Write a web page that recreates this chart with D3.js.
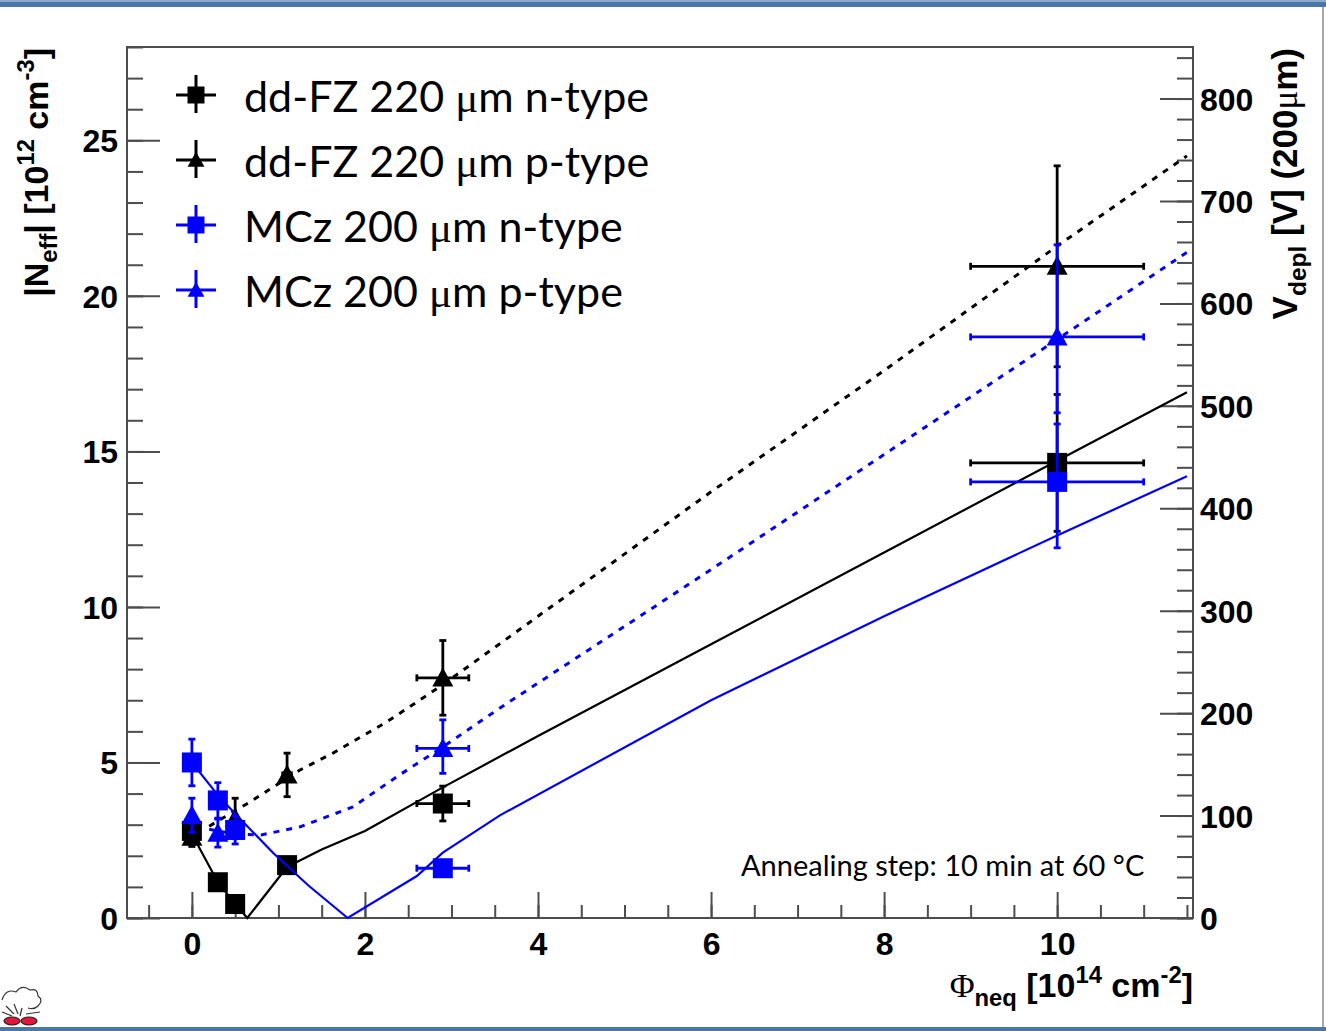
<!DOCTYPE html>
<html><head><meta charset="utf-8">
<script src="https://cdn.jsdelivr.net/npm/d3@7"></script>
<style>body{margin:0;background:#fff}svg{display:block}</style>
</head><body><svg id="c" width="1326" height="1031"></svg>
<script>
// ---------- data ----------
// dd-FZ 220 um n-type
const fzN_x    = [0, 0.3, 0.5, 1.1, 2.9, 10];
const fzN_y    = [2.8, 1.15, 0.45, 1.7, 3.68, 14.63];
const fzN_xerr = [0, 0, 0, 0, 0.3, 1.0];
const fzN_elo  = [0.3, 0.2, 0.2, 0.2, 0.56, 2.2];
const fzN_ehi  = [0.3, 0.2, 0.2, 0.2, 0.56, 2.2];
// dd-FZ 220 um p-type
const fzP_x    = [0, 0.5, 1.1, 2.9, 10];
const fzP_y    = [2.6, 3.2, 4.6, 7.72, 20.95];
const fzP_xerr = [0, 0, 0.05, 0.3, 1.0];
const fzP_elo  = [0.3, 0.65, 0.7, 1.2, 3.23];
const fzP_ehi  = [0.3, 0.65, 0.7, 1.2, 3.23];
// MCz 200 um n-type
const mczN_x    = [0, 0.3, 0.5, 2.9, 10];
const mczN_y    = [5.0, 3.78, 2.83, 1.6, 14.02];
const mczN_xerr = [0, 0, 0, 0.3, 1.0];
const mczN_elo  = [0.75, 0.57, 0.45, 0.2, 2.12];
const mczN_ehi  = [0.75, 0.57, 0.45, 0.2, 1.86];
// MCz 200 um p-type
const mczP_x    = [0, 0.3, 2.9, 10];
const mczP_y    = [3.3, 2.73, 5.45, 18.68];
const mczP_xerr = [0, 0, 0.3, 1.0];
const mczP_elo  = [0.55, 0.45, 0.8, 2.44];
const mczP_ehi  = [0.55, 0.45, 0.92, 2.96];

// model curves
const fitFzN_x  = [0, 0.3, 0.5, 0.64, 1.1, 1.5, 2, 2.9, 4, 6, 8, 10, 11.5];
const fitFzN_y  = [2.7, 1.15, 0.45, 0, 1.64, 2.2, 2.8, 4.2, 5.85, 8.8, 11.75, 14.7, 16.9];
const fitFzP_x  = [0.2, 0.32, 0.67, 1.25, 1.63, 2.25, 2.9, 4, 6, 8, 10, 11.5];
const fitFzP_y  = [2.95, 3.15, 3.73, 4.76, 5.3, 6.3, 7.5, 9.7, 13.7, 17.6, 21.6, 24.5];
const fitMczN_x = [0, 0.3, 0.5, 0.94, 1.34, 1.8, 2.6, 2.9, 3.56, 6, 8, 10, 11.5];
const fitMczN_y = [5.0, 3.95, 3.35, 2.09, 1.06, 0, 1.35, 2.1, 3.3, 7.0, 9.7, 12.3, 14.2];
const fitMczP_x = [0.2, 0.5, 0.8, 1.25, 1.86, 2.4, 2.9, 3.56, 6, 8, 10, 11.5];
const fitMczP_y = [2.85, 2.7, 2.67, 2.93, 3.57, 4.6, 5.5, 6.75, 11.2, 14.9, 18.6, 21.4];

const seriesNames = ["dd-FZ 220 \u03bcm n-type", "dd-FZ 220 \u03bcm p-type", "MCz 200 \u03bcm n-type", "MCz 200 \u03bcm p-type"];
const xTicks = [0, 2, 4, 6, 8, 10];
const yTicks = [0, 5, 10, 15, 20, 25];
const vTicks = [0, 100, 200, 300, 400, 500, 600, 700, 800];
const annotation = "Annealing step: 10 min at 60 \u00b0C";

// ---------- layout ----------
const L = 127, R = 1193, T = 47, B = 918;
const svg = d3.select("#c");
const x = d3.scaleLinear().domain([-0.75, 11.57]).range([L, R]);
const y = d3.scaleLinear().domain([0, 28]).range([B, T]);
const vPerUnit = 30.37;
const yv = d3.scaleLinear().domain([0, 28 * vPerUnit]).range([B, T]);

const BLUE = "#0000ff", BLACK = "#000000", FRAME = "#4d4d4d";
const tickFont = "'Liberation Sans', Arial, sans-serif";

// page decorations
svg.append("rect").attr("x", 0).attr("y", 0).attr("width", 1326).attr("height", 7).attr("fill", "#4a76a8");
svg.append("rect").attr("x", 0).attr("y", 0).attr("width", 1326).attr("height", 2).attr("fill", "#8cabd0");
svg.append("rect").attr("x", 0).attr("y", 1027).attr("width", 1326).attr("height", 4).attr("fill", "#4a76a8");
svg.append("line").attr("x1", 1323).attr("x2", 1323).attr("y1", 7).attr("y2", 1027).attr("stroke", "#8a8a8a").attr("stroke-width", 1.5);
// small logo sketch (bottom-left)
const logo = svg.append("g").attr("fill", "none").attr("stroke", "#333").attr("stroke-width", 1.2);
logo.append("path").attr("d", "M2,1000 q4,-12 14,-8 q6,-8 14,-2 q8,-2 8,6 q6,4 0,10 q-4,4 -10,2");
logo.append("path").attr("d", "M2,1012 l10,4 M6,1006 l8,8 M14,1004 l4,10 M22,1008 l-2,8 M26,1014 l14,-2");
logo.append("ellipse").attr("cx", 12).attr("cy", 1021).attr("rx", 8).attr("ry", 4).attr("fill", "#e2173a").attr("stroke", "#222");
logo.append("ellipse").attr("cx", 29).attr("cy", 1021).attr("rx", 8).attr("ry", 4).attr("fill", "#e2173a").attr("stroke", "#222");

// ---------- axes (ticks inward) ----------
function styleAxis(g) {
  g.select(".domain").remove();
  g.selectAll(".tick line").attr("stroke", FRAME).attr("stroke-width", 2);
  g.selectAll(".tick text").attr("font-family", tickFont).attr("font-weight", "bold")
    .attr("font-size", 32).attr("fill", "#000");
}
svg.append("g").attr("transform", `translate(0,${B})`)
  .call(d3.axisBottom(x).tickValues(d3.range(-0.5, 11.51, 0.5)).tickSize(-13).tickFormat(""))
  .call(styleAxis);
svg.append("g").attr("transform", `translate(0,${B})`)
  .call(d3.axisBottom(x).tickValues(xTicks).tickSize(-26).tickPadding(0).tickFormat(d3.format("d")))
  .call(styleAxis)
  .call(g => g.selectAll(".tick text").attr("y", 37).attr("dy", 0));
svg.append("g").attr("transform", `translate(${L},0)`)
  .call(d3.axisLeft(y).tickValues(d3.range(0, 28.1, 1)).tickSize(-16).tickFormat(""))
  .call(styleAxis);
svg.append("g").attr("transform", `translate(${L},0)`)
  .call(d3.axisLeft(y).tickValues(yTicks).tickSize(-33).tickFormat(d3.format("d")))
  .call(styleAxis)
  .call(g => g.selectAll(".tick text").attr("x", -9).attr("dy", "0.36em"));
svg.append("g").attr("transform", `translate(${R},0)`)
  .call(d3.axisRight(yv).tickValues(d3.range(0, 841, 20)).tickSize(-16).tickFormat(""))
  .call(styleAxis);
svg.append("g").attr("transform", `translate(${R},0)`)
  .call(d3.axisRight(yv).tickValues(vTicks).tickSize(-33).tickFormat(d3.format("d")))
  .call(styleAxis)
  .call(g => g.selectAll(".tick text").attr("x", 7).attr("dy", "0.36em"));

svg.append("rect").attr("x", L).attr("y", T).attr("width", R - L).attr("height", B - T)
  .attr("fill", "none").attr("stroke", FRAME).attr("stroke-width", 2);

// ---------- axis titles ----------
const titleSize = 34;
const lt = svg.append("text").attr("transform", `translate(48,${T + 1}) rotate(-90)`)
  .attr("text-anchor", "end").attr("font-family", tickFont).attr("font-weight", "bold")
  .attr("font-size", titleSize).attr("fill", "#000");
lt.append("tspan").text("|N");
lt.append("tspan").attr("font-size", titleSize * 0.7).attr("dy", 9).text("eff");
lt.append("tspan").attr("dy", -9).text("| [10");
lt.append("tspan").attr("font-size", titleSize * 0.7).attr("dy", -14).text("12");
lt.append("tspan").attr("dy", 14).text(" cm");
lt.append("tspan").attr("font-size", titleSize * 0.7).attr("dy", -14).text("-3");
lt.append("tspan").attr("dy", 14).text("]");
const rtSize = 35;
const rt = svg.append("text").attr("transform", `translate(1297,${T + 1}) rotate(-90)`)
  .attr("text-anchor", "end").attr("font-family", tickFont).attr("font-weight", "bold")
  .attr("font-size", rtSize).attr("fill", "#000");
rt.append("tspan").text("V");
rt.append("tspan").attr("font-size", rtSize * 0.7).attr("dy", 9).text("depl");
rt.append("tspan").attr("dy", -9).text(" [V] (200");
rt.append("tspan").attr("font-family", "'Liberation Serif', serif").attr("font-weight", "normal").text("\u03bc");
rt.append("tspan").text("m)");
const bt = svg.append("text").attr("x", R).attr("y", 997)
  .attr("text-anchor", "end").attr("font-family", tickFont).attr("font-weight", "bold")
  .attr("font-size", titleSize).attr("fill", "#000");
bt.append("tspan").attr("font-family", "'Liberation Serif', serif").attr("font-weight", "normal").text("\u03a6");
bt.append("tspan").attr("font-size", titleSize * 0.7).attr("dy", 9).text("neq");
bt.append("tspan").attr("dy", -9).text(" [10");
bt.append("tspan").attr("font-size", titleSize * 0.7).attr("dy", -14).text("14");
bt.append("tspan").attr("dy", 14).text(" cm");
bt.append("tspan").attr("font-size", titleSize * 0.7).attr("dy", -14).text("-2");
bt.append("tspan").attr("dy", 14).text("]");

// ---------- plotting ----------
const plot = svg.append("g");
const line = d3.line().x(d => x(d[0])).y(d => y(d[1]));

function markerPath(type, cx, cy, s) {
  if (type === "square") {
    return `M${cx - s / 2},${cy - s / 2}h${s}v${s}h${-s}Z`;
  }
  const w = s * 1.05, h = s * 0.95;
  return `M${cx},${cy - h * 0.55}L${cx + w / 2},${cy + h * 0.45}L${cx - w / 2},${cy + h * 0.45}Z`;
}

function drawSeries(xs, ys, xerr, elo, ehi, color, type) {
  const g = plot.append("g");
  const cap = 3.5, sw = 2.8;
  xs.forEach((xv, i) => {
    const cx = x(xv), cy = y(ys[i]);
    const yTop = y(ys[i] + ehi[i]), yBot = y(ys[i] - elo[i]);
    g.append("line").attr("x1", cx).attr("x2", cx).attr("y1", yTop).attr("y2", yBot)
      .attr("stroke", color).attr("stroke-width", sw);
    g.append("line").attr("x1", cx - cap).attr("x2", cx + cap).attr("y1", yTop).attr("y2", yTop)
      .attr("stroke", color).attr("stroke-width", sw);
    g.append("line").attr("x1", cx - cap).attr("x2", cx + cap).attr("y1", yBot).attr("y2", yBot)
      .attr("stroke", color).attr("stroke-width", sw);
    if (xerr[i] > 0) {
      const xl = x(xv - xerr[i]), xr = x(xv + xerr[i]);
      g.append("line").attr("x1", xl).attr("x2", xr).attr("y1", cy).attr("y2", cy)
        .attr("stroke", color).attr("stroke-width", sw);
      g.append("line").attr("x1", xl).attr("x2", xl).attr("y1", cy - cap).attr("y2", cy + cap)
        .attr("stroke", color).attr("stroke-width", sw);
      g.append("line").attr("x1", xr).attr("x2", xr).attr("y1", cy - cap).attr("y2", cy + cap)
        .attr("stroke", color).attr("stroke-width", sw);
    }
    g.append("path").attr("d", markerPath(type, cx, cy, 20)).attr("fill", color);
  });
}
function drawFit(xs, ys, color, dashed) {
  plot.append("path").datum(xs.map((v, i) => [v, ys[i]])).attr("d", line)
    .attr("fill", "none").attr("stroke", color)
    .attr("stroke-width", dashed ? 3 : 2.2)
    .attr("stroke-dasharray", dashed ? "6,7" : null);
}

drawSeries(fzN_x, fzN_y, fzN_xerr, fzN_elo, fzN_ehi, BLACK, "square");
drawFit(fitFzN_x, fitFzN_y, BLACK, false);
drawSeries(fzP_x, fzP_y, fzP_xerr, fzP_elo, fzP_ehi, BLACK, "tri");
drawFit(fitFzP_x, fitFzP_y, BLACK, true);
drawSeries(mczN_x, mczN_y, mczN_xerr, mczN_elo, mczN_ehi, BLUE, "square");
drawFit(fitMczN_x, fitMczN_y, BLUE, false);
drawSeries(mczP_x, mczP_y, mczP_xerr, mczP_elo, mczP_ehi, BLUE, "tri");
drawFit(fitMczP_x, fitMczP_y, BLUE, true);

// ---------- legend ----------
const legColors = [BLACK, BLACK, BLUE, BLUE];
const legTypes = ["square", "tri", "square", "tri"];
const legFont = "Lato, 'Open Sans', sans-serif";
seriesNames.forEach((name, i) => {
  const cy = 95 + i * 65, cx = 196;
  const g = svg.append("g");
  g.append("line").attr("x1", cx - 20).attr("x2", cx + 20).attr("y1", cy).attr("y2", cy)
    .attr("stroke", legColors[i]).attr("stroke-width", 3);
  g.append("line").attr("x1", cx).attr("x2", cx).attr("y1", cy - 20).attr("y2", cy + 18)
    .attr("stroke", legColors[i]).attr("stroke-width", 3);
  g.append("path").attr("d", markerPath(legTypes[i], cx, cy, legTypes[i] === "square" ? 17 : 16))
    .attr("fill", legColors[i]);
  const parts = name.split("\u03bc");
  const t = g.append("text").attr("x", 244).attr("y", cy + 17)
    .attr("font-family", legFont).attr("font-size", 43).attr("fill", "#000");
  t.append("tspan").text(parts[0]);
  t.append("tspan").attr("font-family", "'Liberation Serif', serif").text("\u03bc");
  t.append("tspan").text(parts[1]);
});

svg.append("text").attr("x", 741).attr("y", 876)
  .attr("font-family", legFont).attr("font-size", 29).attr("fill", "#000")
  .text(annotation);
</script>
</body></html>
